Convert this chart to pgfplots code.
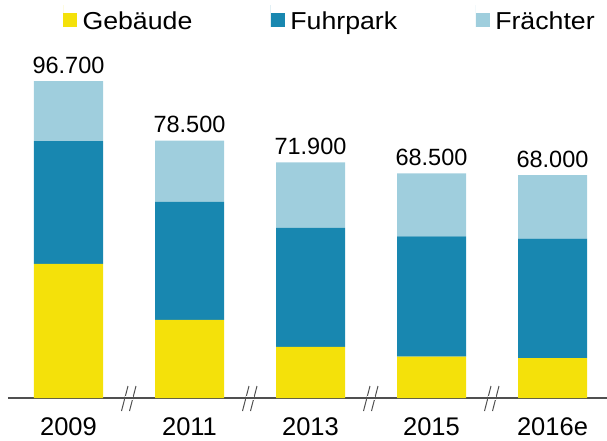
\documentclass[border=0pt]{standalone}
\usepackage{fontspec}
\setmainfont{Liberation Sans}
\usepackage{graphicx}
\usepackage{pgfplots}
\pgfplotsset{compat=1.18}
\usepackage{pgfplotstable}

\definecolor{gelb}{RGB}{244,225,10}
\definecolor{blau}{RGB}{24,135,176}
\definecolor{hellblau}{RGB}{159,206,221}
\definecolor{linie}{RGB}{80,80,80}

% t CO2 in thousands
\pgfplotstableread{
x geb  fuhr frae sum  label
0 40.9 37.5 18.3 96.7 96.700
1 23.8 36.0 18.7 78.5 78.500
2 15.6 36.3 20.0 71.9 71.900
3 12.6 36.7 19.2 68.5 68.500
4 12.2 36.4 19.4 68.0 68.000
}\emissionen

\newcommand{\sx}[1]{\scalebox{1.09}[1]{#1}}

\pgfplotsset{
  rahmen/.style={
    scale only axis,
    width=607pt, height=327.8pt,
    xmin=-0.5661, xmax=4.4504,
    ymin=0, ymax=100,
    bar width=69pt,
    axis line style={draw=none},
    major tick length=0pt,
    ytick=\empty,
    clip=false,
  }
}

\begin{document}
\begin{tikzpicture}
\useasboundingbox (0pt,-42pt) rectangle (607pt,398pt);
\begin{axis}[
    rahmen,
    ybar stacked,
    xtick=data,
    xticklabels={2009,2011,2013,2015,2016e},
    xticklabel style={anchor=base, yshift=-37pt, font=\fontsize{25.5}{30}\selectfont},
    legend columns=-1,
    legend style={
        at={(axis description cs:0.1038,1.1593)}, anchor=west,
        draw=none, fill=none, inner sep=0pt, outer sep=0pt,
        font=\fontsize{24.5}{29}\selectfont,
        nodes={inner sep=0pt},
        /tikz/every odd column/.style={column sep=5.5pt},
        /tikz/every even column/.style={column sep=78.5pt}
    },
    sq/.style={legend image code/.code={%
        \path (0pt,-6pt) -- (0pt,16pt);
        \fill[##1] (0pt,-6pt) rectangle (14pt,8pt);}},
]
\addplot[fill=gelb, draw=none, sq] table[x=x, y=geb]{\emissionen};
\addplot[fill=blau, draw=none, sq] table[x=x, y=fuhr]{\emissionen};
\addplot[fill=hellblau, draw=none, sq] table[x=x, y=frae]{\emissionen};
\legend{\sx{Gebäude},\sx{Fuhrpark},\sx{Frächter}}

% baseline with axis breaks
\draw[linie, line width=1.2pt] (axis cs:-0.5,0) -- (axis cs:4.4504,0);
\pgfplotsinvokeforeach{0.5,1.5,2.5,3.5}{
  \fill[white] ([xshift=-4pt, yshift=-2pt]axis cs:#1,0) rectangle ([xshift=4pt, yshift=2pt]axis cs:#1,0);
  \draw[linie, line width=1pt] ([xshift=-7.5pt, yshift=-13pt]axis cs:#1,0) -- ([xshift=-1pt, yshift=12pt]axis cs:#1,0);
  \draw[linie, line width=1pt] ([xshift=0.5pt, yshift=-13pt]axis cs:#1,0) -- ([xshift=7pt, yshift=12pt]axis cs:#1,0);
}
\end{axis}

% totals above the bars
\begin{axis}[
    rahmen, ybar, xtick=\empty,
]
\addplot[draw=none, fill=none,
    nodes near coords, point meta=explicit symbolic,
    nodes near coords style={anchor=base, yshift=8pt, text=black,
        font=\fontsize{23.5}{28}\selectfont}]
    table[x=x, y=sum, meta=label]{\emissionen};
\end{axis}
\end{tikzpicture}
\end{document}
